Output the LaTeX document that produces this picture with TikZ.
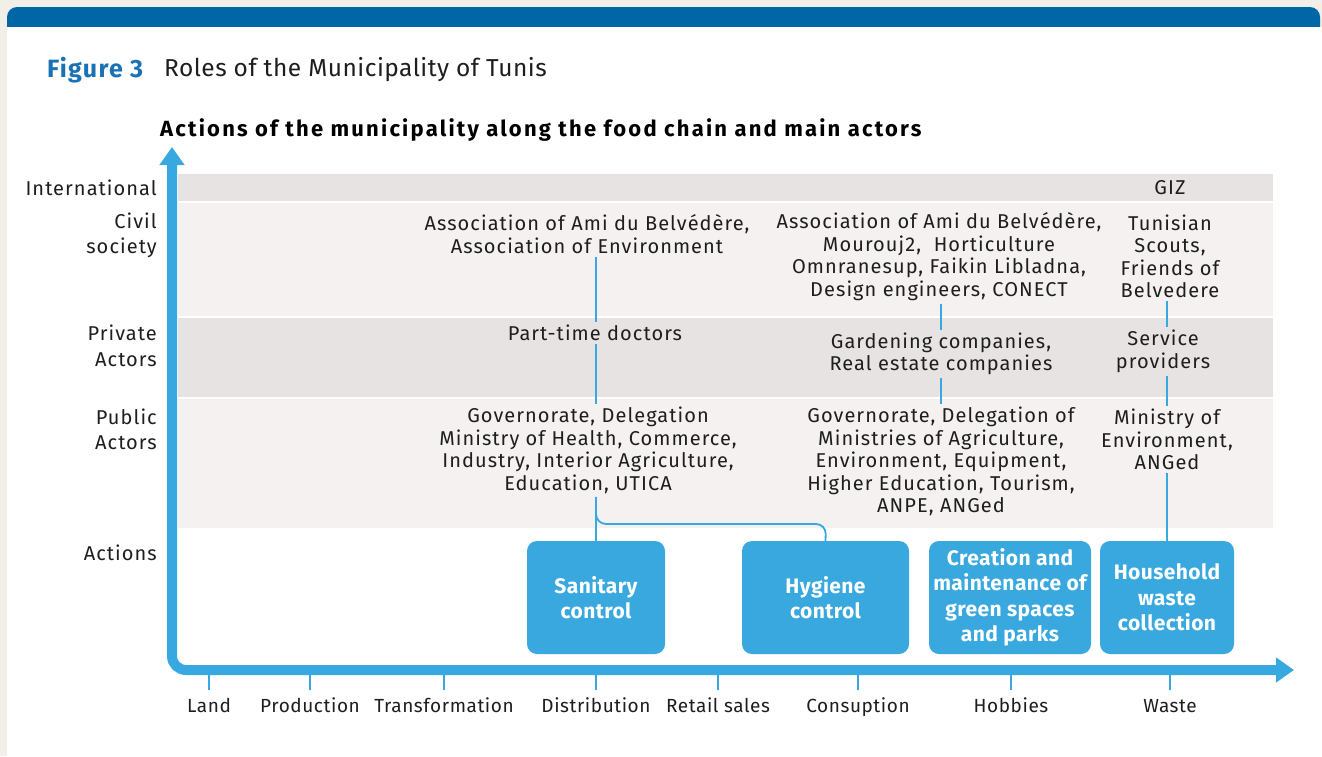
\documentclass[tikz,border=0pt]{standalone}
\usepackage{fontspec}
\setmainfont{Fira Sans}[LetterSpace=5.3]
\newfontfamily\axisfont{Fira Sans}[LetterSpace=3]
\newfontfamily\boxfont{Fira Sans}[LetterSpace=2]
\newfontfamily\headfont{Fira Sans}[LetterSpace=5]
\newfontfamily\titlefont{Fira Sans}[LetterSpace=2]
\newfontfamily\subfont{Fira Sans}[LetterSpace=10]
\usetikzlibrary{arrows.meta,calc}
\definecolor{pagebg}{HTML}{F2EEE8}
\definecolor{headblue}{HTML}{0066A6}
\definecolor{titleblue}{HTML}{1A72B5}
\definecolor{axisblue}{HTML}{38A9E0}
\definecolor{boxblue}{HTML}{38A8DF}
\definecolor{banddark}{HTML}{E8E3E3}
\definecolor{bandlight}{HTML}{F4F1F0}
\definecolor{ink}{HTML}{1E1E1E}
\begin{document}
\begin{tikzpicture}[x=1pt,y=-1pt,
  lbl/.style={font=\fontsize{20}{22.5}\selectfont, text=ink, align=center, inner sep=3pt},
  rowlbl/.style={font=\fontsize{20}{25.5}\selectfont, text=ink, align=right, anchor=east, inner sep=0pt},
  axlbl/.style={font=\axisfont\fontsize{19}{22}\selectfont, text=ink, inner sep=0pt, anchor=base},
  act/.style={fill=boxblue, rounded corners=10pt, text=white, align=center, inner sep=0pt,
    minimum height=113pt, font=\boxfont\bfseries\fontsize{21}{25.5}\selectfont},
  link/.style={draw=axisblue, line width=1.8pt},
  tickmark/.style={draw=axisblue, line width=2pt}]
\useasboundingbox (0,0) rectangle (1322,756);
% page and card
\fill[pagebg] (0,0) rectangle (1322,756);
\fill[headblue, rounded corners=10pt] (7,7) rectangle (1320,45);
\fill[white] (7,27) rectangle (1322,756);

% titles
\node[anchor=west, inner sep=0pt, text=titleblue, font=\headfont\bfseries\fontsize{25}{28}\selectfont] (fig) at (47,70) {Figure 3};
\node[anchor=west, inner sep=0pt, text=ink, font=\titlefont\fontsize{24.5}{28}\selectfont] (ttl) at (164,70) {Roles of the Municipality of Tunis};
\node[anchor=west, inner sep=0pt, text=black, font=\subfont\bfseries\fontsize{22}{25}\selectfont] (sub) at (160,130) {Actions of the municipality along the food chain and main actors};

% bands
\fill[banddark]  (178,174) rectangle (1273,201);
\fill[bandlight] (178,203) rectangle (1273,316);
\fill[banddark]  (178,318) rectangle (1273,397);
\fill[bandlight] (178,399) rectangle (1273,528);

% axes
\draw[axisblue, line width=10pt, rounded corners=14pt,
  {Triangle[length=18pt,width=24pt]}-{Triangle[length=18pt,width=24pt]}]
  (172,147) -- (172,670) -- (1294,670);

% row labels
\node[rowlbl] (rint) at (157,188) {International};
\node[rowlbl] (rciv) at (157,235.5) {Civil\\society};
\node[rowlbl] (rpriv) at (157,346) {Private\\Actors};
\node[rowlbl] (rpub) at (157,429.5) {Public\\Actors};
\node[rowlbl] (ract) at (157,553) {Actions};

% food chain stages
\foreach \x/\n/\t in {209/land/Land, 310/prod/Production, 444/trans/Transformation,
  596/dist/Distribution, 718/retail/Retail sales, 858/cons/Consuption,
  1011/hob/Hobbies, 1170/waste/Waste}{
  \draw[tickmark] (\x,675) -- (\x,690);
  \node[axlbl] (\n) at (\x,712) {\t};
}

% actors
\node[lbl] (intl) at (1170,188) {GIZ};
\node[lbl] (civ1) at (587,234) {Association of Ami du Belvédère,\\Association of Environment};
\node[lbl] (civ2) at (939,256.5) {Association of Ami du Belvédère,\\Mourouj2,\ \ Horticulture\\Omnranesup, Faikin Libladna,\\Design engineers, CONECT};
\node[lbl] (civ3) at (1170,256.5) {Tunisian\\Scouts,\\Friends of\\Belvedere};
\node[lbl] (priv1) at (595,333) {Part-time doctors};
\node[lbl] (priv2) at (941,354) {Gardening companies,\\Real estate companies};
\node[lbl] (priv3) at (1163,351.5) {Service\\providers};
\node[lbl] (pub1) at (588,450.5) {Governorate, Delegation\\Ministry of Health, Commerce,\\Industry, Interior Agriculture,\\Education, UTICA};
\node[lbl] (pub2) at (941,461.5) {Governorate, Delegation of\\Ministries of Agriculture,\\Environment, Equipment,\\Higher Education, Tourism,\\ANPE, ANGed};
\node[lbl] (pub3) at (1167,439.5) {Ministry of\\Environment,\\ANGed};

% actions
\node[act, minimum width=138pt] (san) at (596,597.5) {Sanitary\\control};
\node[act, minimum width=167pt] (hyg) at (825.5,597.5) {Hygiene\\control};
\node[act, minimum width=162pt] (grn) at (1010,597.5) {Creation and\\maintenance of\\green spaces\\and parks};
\node[act, minimum width=134pt] (hh) at (1167,597.5) {Household\\waste\\collection};

% links
\coordinate (bend) at (826,524);
\draw[link] (civ1.south -| san.north) -- (priv1.north -| san.north);
\draw[link] (priv1.south -| san.north) -- (pub1.north -| san.north);
\draw[link] (pub1.south -| san.north) -- (san.north);
\draw[link, rounded corners=10pt] (pub1.south -| san.north) |- (bend) -- (hyg.north);
\draw[link] (civ2.south -| pub2.north) -- (priv2.north -| pub2.north);
\draw[link] (priv2.south -| pub2.north) -- (pub2.north);
\draw[link] (civ3.south -| hh.north) -- (priv3.north -| hh.north);
\draw[link] (priv3.south -| hh.north) -- (pub3.north -| hh.north);
\draw[link] (pub3.south -| hh.north) -- (hh.north);
\end{tikzpicture}
\end{document}
